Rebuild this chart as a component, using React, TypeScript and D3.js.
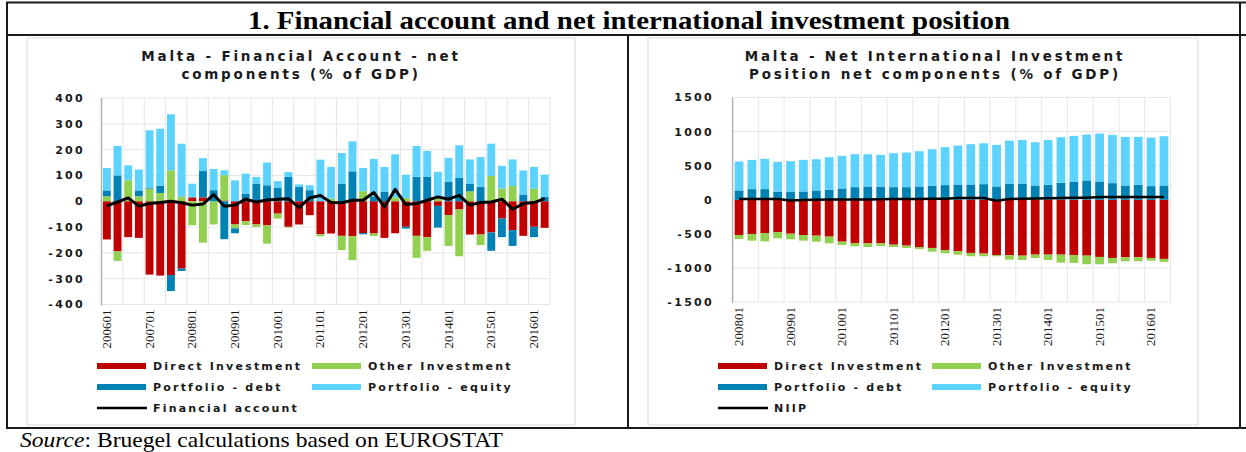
import React, { useRef, useEffect } from 'react';
import * as d3 from 'd3';

// Malta - Financial Account - net components (% of GDP), 2006Q1 .. 2016Q2
const faPeriods = [
    "200601", "200602", "200603", "200604", "200701", "200702", "200703", "200704",
    "200801", "200802", "200803", "200804", "200901", "200902", "200903", "200904",
    "201001", "201002", "201003", "201004", "201101", "201102", "201103", "201104",
    "201201", "201202", "201203", "201204", "201301", "201302", "201303", "201304",
    "201401", "201402", "201403", "201404", "201501", "201502", "201503", "201504",
    "201601", "201602"];
const faDirect = [
    -148, -194, -139, -142, -284, -288, -286, -261, 15, 15, 0, 3,
    -90, -77, -90, -93, -48, -99, -90, -54, -128, -125, -134, -135,
    -123, -125, -142, -124, -99, -134, -139, -18, -54, -32, -129, -129,
    -121, -67, -112, -134, -99, -103];
const faOther = [
    19, -37, 81, 19, 49, 32, 120, 17, -93, -160, -90, 98,
    -15, -15, -10, -71, -19, -3, 0, 0, -8, 10, -55, -93,
    39, -10, 0, 15, 13, -85, -53, 13, -119, -181, 39, -41,
    98, 49, 59, 0, 49, 0];
const faDebt = [
    23, 100, 0, 23, 4, 28, -62, -9, 0, 102, 43, -147,
    -19, 30, 67, 62, 53, 94, 55, 43, 0, 0, 68, 116,
    -5, 19, 36, 0, -7, 95, 94, -84, 75, 90, 28, 55,
    -71, -72, -61, 26, -40, 17];
const faEquity = [
    87, 114, 58, 81, 222, 221, 217, 206, 53, 50, 82, 19,
    81, 77, 27, 88, 25, 19, 10, 19, 161, 123, 119, 116,
    90, 145, 97, 167, 90, 119, 101, 101, 93, 127, 95, 116,
    125, 88, 103, 93, 84, 86];
const faAccount = [
    -18, -3, 13, -19, -9, -5, 0, -6, -15, -11, 26, -19,
    -15, 8, -3, 5, 8, 10, -25, 13, 22, -5, -6, 4,
    4, 34, -22, 46, -13, -9, 4, 17, 8, 23, -15, -5,
    -3, 8, -31, -9, -5, 10];
const faTicks = [400, 300, 200, 100, 0, -100, -200, -300, -400];

// Malta - Net International Investment Position net components (% of GDP), 2008Q1 .. 2016Q2
const niipPeriods = [
    "200801", "200802", "200803", "200804", "200901", "200902", "200903", "200904",
    "201001", "201002", "201003", "201004", "201101", "201102", "201103", "201104",
    "201201", "201202", "201203", "201204", "201301", "201302", "201303", "201304",
    "201401", "201402", "201403", "201404", "201501", "201502", "201503", "201504",
    "201601", "201602"];
const niipDirect = [
    -517, -502, -488, -473, -498, -517, -527, -541, -615, -634, -639, -639,
    -659, -673, -693, -707, -737, -756, -780, -790, -810, -815, -820, -805,
    -805, -805, -810, -820, -839, -854, -844, -844, -854, -868];
const niipOther = [
    -59, -98, -122, -93, -82, -83, -88, -98, -48, -49, -54, -39,
    -34, -34, -29, -54, -48, -49, -49, -39, -19, -63, -63, -49,
    -78, -117, -117, -126, -107, -78, -58, -58, -39, -44];
const niipDebt = [
    137, 156, 156, 117, 117, 122, 137, 146, 166, 185, 195, 190,
    185, 185, 195, 205, 215, 224, 224, 229, 195, 234, 239, 210,
    220, 249, 263, 283, 268, 244, 210, 220, 200, 210];
const niipEquity = [
    424, 429, 444, 439, 449, 463, 458, 478, 478, 483, 473, 469,
    498, 508, 517, 536, 556, 571, 591, 600, 610, 634, 639, 634,
    658, 668, 674, 673, 703, 707, 712, 702, 712, 722];
const niipTotal = [
    10, 10, 10, 10, -12, -5, 0, 2, 5, 5, 5, 8,
    10, 10, 12, 15, 15, 25, 25, 25, -15, 10, 15, 20,
    22, 25, 28, 30, 40, 42, 42, 42, 42, 42];
const niipTicks = [1500, 1000, 500, 0, -500, -1000, -1500];

const seriesNames = ["Direct Investment", "Other Investment", "Portfolio - debt", "Portfolio - equity"];
const seriesColors = ["#c00000", "#92d050", "#0083b4", "#5cd3ff"];

const sansBold = "'DejaVu Sans', Verdana, sans-serif";
const serif = "'Liberation Serif', 'Times New Roman', serif";

const drawPanel = (svg, cfg) => {
    const keys = ["direct", "other", "debt", "equity"];
    const table = cfg.periods.map((p, i) => ({
        period: p,
        direct: cfg.values[0][i],
        other: cfg.values[1][i],
        debt: cfg.values[2][i],
        equity: cfg.values[3][i],
    }));

    const x = d3.scaleBand()
        .domain(cfg.periods)
        .range([cfg.x0, cfg.x1])
        .paddingInner(cfg.pad)
        .paddingOuter(cfg.pad / 2);
    const y = d3.scaleLinear().domain(cfg.domain).range([cfg.yBottom, cfg.yTop]);
    const step = x.step();

    const g = svg.append("g");

    // chart frame
    g.append("rect")
        .attr("x", cfg.frame[0]).attr("y", cfg.frame[1])
        .attr("width", cfg.frame[2]).attr("height", cfg.frame[3])
        .attr("fill", "#fff").attr("stroke", "#d9d9d9").attr("stroke-width", 1);

    // gridlines
    g.append("g").selectAll("line")
        .data(cfg.ticks)
        .join("line")
        .attr("x1", cfg.x0).attr("x2", cfg.x1)
        .attr("y1", d => y(d)).attr("y2", d => y(d))
        .attr("stroke", "#e6e6e6").attr("stroke-width", 1);
    g.append("g").selectAll("line")
        .data(d3.range(2, cfg.periods.length + 1, 2))
        .join("line")
        .attr("x1", k => cfg.x0 + k * step).attr("x2", k => cfg.x0 + k * step)
        .attr("y1", cfg.yTop).attr("y2", cfg.yBottom)
        .attr("stroke", "#e6e6e6").attr("stroke-width", 1);

    // stacked bars
    const stacked = d3.stack().keys(keys).offset(d3.stackOffsetDiverging)(table);
    g.append("g").selectAll("g")
        .data(stacked)
        .join("g")
        .attr("fill", (d, i) => seriesColors[i])
        .selectAll("rect")
        .data(d => d)
        .join("rect")
        .attr("x", d => x(d.data.period))
        .attr("width", x.bandwidth())
        .attr("y", d => y(Math.max(d[0], d[1])))
        .attr("height", d => Math.abs(y(d[0]) - y(d[1])));

    // value axis line
    g.append("line")
        .attr("x1", cfg.x0).attr("x2", cfg.x0)
        .attr("y1", cfg.yTop).attr("y2", cfg.yBottom + 1)
        .attr("stroke", "#b3b3b3").attr("stroke-width", 1.5);

    // total line
    const line = d3.line()
        .x((d, i) => x(cfg.periods[i]) + x.bandwidth() / 2)
        .y(d => y(d));
    g.append("path")
        .datum(cfg.total)
        .attr("d", line)
        .attr("fill", "none")
        .attr("stroke", "#000")
        .attr("stroke-width", cfg.lineWidth)
        .attr("stroke-linejoin", "round");

    // y tick labels
    g.append("g")
        .attr("font-family", sansBold)
        .attr("font-weight", "bold")
        .attr("font-size", 11)
        .attr("letter-spacing", 2.3)
        .attr("text-anchor", "end")
        .attr("fill", "#1a1a1a")
        .selectAll("text")
        .data(cfg.ticks)
        .join("text")
        .attr("x", cfg.tickX)
        .attr("y", d => y(d))
        .attr("dy", "0.36em")
        .text(d => d);

    // x labels, one per year
    g.append("g")
        .attr("font-family", serif)
        .attr("font-size", 13)
        .attr("fill", "#1a1a1a")
        .attr("text-anchor", "end")
        .selectAll("text")
        .data(cfg.periods.filter(p => p.endsWith("01")))
        .join("text")
        .attr("transform", p => `translate(${x(p) + x.bandwidth() / 2 + 4},${cfg.yBottom + 5}) rotate(-90)`)
        .text(p => p);

    // chart title
    g.append("text")
        .attr("font-family", sansBold)
        .attr("font-weight", "bold")
        .attr("font-size", 13.5)
        .attr("letter-spacing", 2.8)
        .attr("text-anchor", "middle")
        .attr("fill", "#1a1a1a")
        .selectAll("tspan")
        .data(cfg.title)
        .join("tspan")
        .attr("x", cfg.titleX)
        .attr("y", (d, i) => 61 + i * 18)
        .text(d => d);

    // legend
    const legend = g.append("g")
        .attr("font-family", sansBold)
        .attr("font-weight", "bold")
        .attr("font-size", 11)
        .attr("letter-spacing", 2.2)
        .attr("fill", "#1a1a1a");
    const items = seriesNames.map((name, i) => ({ name, color: seriesColors[i], col: i % 2, row: Math.floor(i / 2) }))
        .concat([{ name: cfg.lineName, color: "#000", col: 0, row: 2, isLine: true }]);
    const rows = [366, 387, 408];
    items.forEach(it => {
        const sx = cfg.legendX[it.col];
        const cy = rows[it.row];
        if (it.isLine) {
            legend.append("line")
                .attr("x1", sx).attr("x2", sx + 50)
                .attr("y1", cy).attr("y2", cy)
                .attr("stroke", "#000").attr("stroke-width", 2.5);
        } else {
            legend.append("rect")
                .attr("x", sx).attr("y", cy - 3)
                .attr("width", 49).attr("height", 6)
                .attr("fill", it.color);
        }
        legend.append("text")
            .attr("x", sx + 56).attr("y", cy)
            .attr("dy", "0.36em")
            .text(it.name);
    });
};

const App = () => {
    const ref = useRef(null);
    useEffect(() => {
        document.body.style.margin = "0";
        const svg = d3.select(ref.current);
        svg.selectAll("*").remove();

        svg.append("rect").attr("width", 1246).attr("height", 452).attr("fill", "#fff");

        drawPanel(svg, {
            periods: faPeriods,
            values: [faDirect, faOther, faDebt, faEquity],
            total: faAccount,
            lineName: "Financial account",
            ticks: faTicks,
            domain: [-400, 400],
            x0: 101.5, x1: 550,
            yTop: 98, yBottom: 304.5,
            pad: 0.26,
            lineWidth: 3,
            tickX: 85,
            frame: [27, 38, 548, 387],
            title: ["Malta - Financial Account - net", "components (% of GDP)"],
            titleX: 301,
            legendX: [97, 312],
        });

        drawPanel(svg, {
            periods: niipPeriods,
            values: [niipDirect, niipOther, niipDebt, niipEquity],
            total: niipTotal,
            lineName: "NIIP",
            ticks: niipTicks,
            domain: [-1500, 1500],
            x0: 732.6, x1: 1170.4,
            yTop: 97.5, yBottom: 302,
            pad: 0.32,
            lineWidth: 2.5,
            tickX: 714,
            frame: [648, 38, 550, 387],
            title: ["Malta - Net International Investment", "Position net components (% of GDP)"],
            titleX: 935,
            legendX: [718, 932],
        });

        // table borders
        const borders = svg.append("g").attr("stroke", "#1a1a1a").attr("stroke-width", 2);
        borders.append("line").attr("x1", 6).attr("x2", 1246).attr("y1", 2.5).attr("y2", 2.5);
        borders.append("line").attr("x1", 7).attr("x2", 7).attr("y1", 2).attr("y2", 429);
        borders.append("line").attr("x1", 6).attr("x2", 1246).attr("y1", 35).attr("y2", 35);
        borders.append("line").attr("x1", 628).attr("x2", 628).attr("y1", 35).attr("y2", 428);
        borders.append("line").attr("x1", 1240).attr("x2", 1240).attr("y1", 2).attr("y2", 429);
        borders.append("line").attr("x1", 6).attr("x2", 1246).attr("y1", 428).attr("y2", 428);

        svg.append("text")
            .attr("x", 629).attr("y", 29)
            .attr("text-anchor", "middle")
            .attr("font-family", serif)
            .attr("font-weight", "bold")
            .attr("font-size", 26)
            .attr("textLength", 762)
            .attr("lengthAdjust", "spacingAndGlyphs")
            .attr("fill", "#000")
            .text("1. Financial account and net international investment position");

        const source = svg.append("text")
            .attr("x", 20).attr("y", 447)
            .attr("font-family", serif)
            .attr("font-size", 21)
            .attr("textLength", 483)
            .attr("lengthAdjust", "spacingAndGlyphs")
            .attr("fill", "#000");
        source.append("tspan").attr("font-style", "italic").text("Source");
        source.append("tspan").text(": Bruegel calculations based on EUROSTAT");
    }, []);

    return (
        <svg
            ref={ref}
            width={1246}
            height={452}
            style={{ display: "block", position: "absolute", left: 0, top: 0 }}
        />
    );
};

export default App;
